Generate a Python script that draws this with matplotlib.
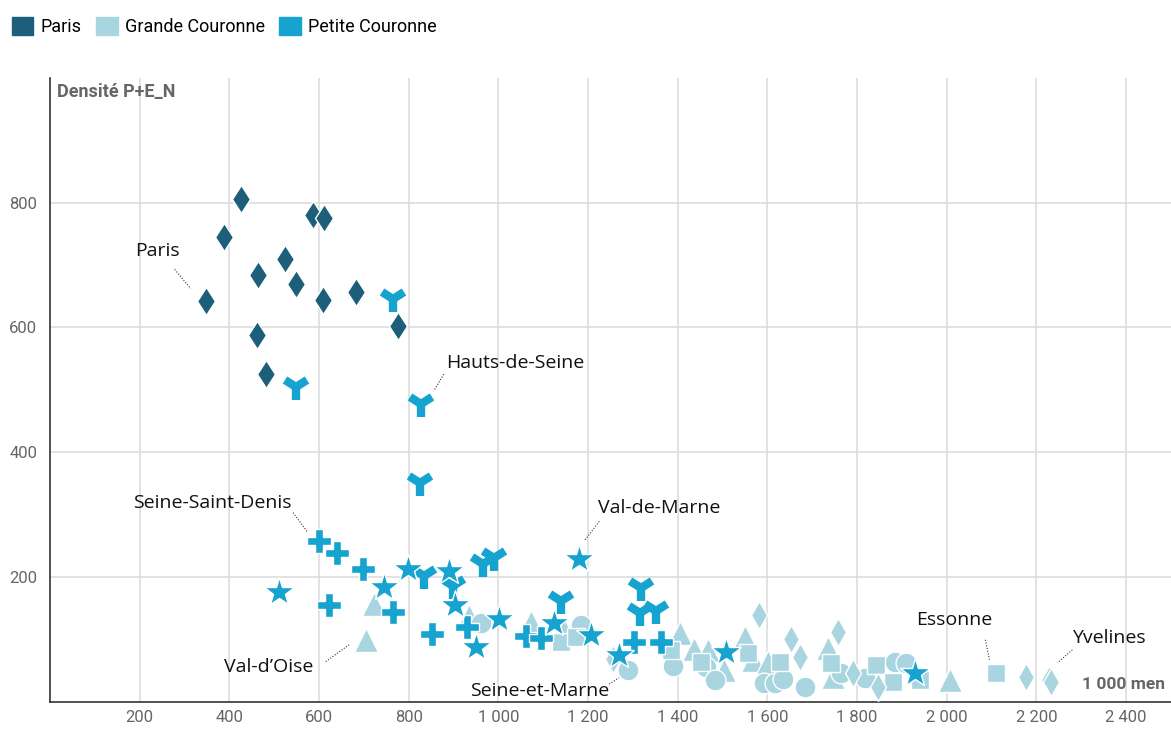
import matplotlib
matplotlib.use("Agg")
import matplotlib.pyplot as plt
from matplotlib.patches import Patch
from matplotlib.ticker import FuncFormatter

# couleurs des trois zones
c_paris = "#1d5f7a"
c_grande = "#a8d5df"
c_petite = "#17a3cf"

# Paris (losanges)
paris_x = [347, 388, 426, 461, 464, 482, 524, 548, 587, 610, 609, 682, 777]
paris_y = [643, 745, 806, 588, 684, 525, 710, 670, 780, 776, 644, 657, 603]

# Petite Couronne
hds_x = [766, 548, 827, 825, 835, 898, 965, 991, 1140, 1318, 1315, 1352]
hds_y = [646, 504, 477, 350, 201, 185, 220, 230, 161, 182, 142, 145]
ssd_x = [600, 641, 697, 623, 764, 853, 931, 1062, 1095, 1303, 1362]
ssd_y = [257, 238, 213, 155, 144, 109, 120, 105, 102, 96, 95]
vdm_x = [510, 745, 799, 890, 903, 950, 1002, 1125, 1207, 1179, 1270, 1508, 1928]
vdm_y = [175, 184, 213, 209, 155, 88, 132, 126, 107, 229, 75, 79, 46]

# Grande Couronne
sem_x = [961, 1184, 1290, 1389, 1464, 1482, 1593, 1616, 1635, 1683, 1765, 1817, 1884, 1910]
sem_y = [126, 123, 51, 57, 56, 35, 29, 29, 36, 24, 45, 37, 64, 61]
yve_x = [1255, 1582, 1653, 1672, 1757, 1791, 1846, 2176, 2228, 2232]
yve_y = [68, 139, 100, 72, 112, 45, 24, 40, 34, 32]
ess_x = [1140, 1173, 1386, 1452, 1557, 1627, 1742, 1843, 1880, 1940, 2109]
ess_y = [96, 104, 82, 64, 78, 64, 61, 59, 32, 35, 46]
vdo_x = [704, 723, 935, 1073, 1147, 1404, 1437, 1467, 1504, 1549, 1568, 1601, 1735, 1746, 2007]
vdo_y = [98, 157, 137, 127, 115, 110, 85, 83, 51, 103, 67, 64, 86, 40, 35]

# étiquettes : texte, position du texte, trait pointillé (x1, y1, x2, y2)
labels = ["Paris", "Hauts-de-Seine", "Seine-Saint-Denis", "Val-de-Marne",
          "Val-d\u2019Oise", "Seine-et-Marne", "Essonne", "Yvelines"]
label_pos = [(240, 723, "center"), (883, 543, "left"), (363, 319, "center"),
             (1222, 310, "left"), (488, 56, "center"), (1091, 17, "center"),
             (2017, 130, "center"), (2361, 102, "center")]
leaders = [(278, 693, 314, 662), (878, 525, 856, 498), (542, 303, 575, 271),
           (1225, 289, 1191, 257), (615, 64, 667, 91), (1247, 28, 1269, 38),
           (2086, 99, 2095, 67), (2280, 83, 2247, 62)]

x_ticks = [200, 400, 600, 800, 1000, 1200, 1400, 1600, 1800, 2000, 2200, 2400]
y_ticks = [200, 400, 600, 800]

plt.rcParams['font.family'] = ['Roboto', 'DejaVu Sans']

fig = plt.figure(figsize=(11.71, 7.29), dpi=100)
ax = fig.add_axes([50 / 1171, 27.5 / 729, 1121 / 1171, 623.5 / 729])

white = dict(markeredgecolor="white", markeredgewidth=1.0, linestyle="none")

# Grande Couronne d'abord
ax.plot(vdo_x, vdo_y, "^", ms=17, color=c_grande, zorder=3, **white)
ax.plot(sem_x, sem_y, "o", ms=15, color=c_grande, zorder=3, **white)
ax.plot(ess_x, ess_y, "s", ms=13, color=c_grande, zorder=3, **white)
ax.plot(yve_x, yve_y, "d", ms=14, color=c_grande, zorder=3, **white)

# Petite Couronne
ax.plot(ssd_x, ssd_y, "P", ms=17, color=c_petite, zorder=4, **white)
ax.plot(hds_x, hds_y, "1", ms=19, color=c_petite, markeredgewidth=6, linestyle="none", zorder=4)
ax.plot(vdm_x, vdm_y, "*", ms=22, color=c_petite, zorder=4, **white)

# Paris
ax.plot(paris_x, paris_y, "d", ms=14.5, color=c_paris, zorder=5, **white)

for lab, (tx, ty, ha), (x1, y1, x2, y2) in zip(labels, label_pos, leaders):
    ax.text(tx, ty, lab, ha=ha, va="center", fontsize=14, color="#111111",
            family=["Open Sans", "DejaVu Sans"], zorder=6)
    ax.plot([x1, x2], [y1, y2], color="#333333", lw=0.8, linestyle=(0, (1, 1.5)), zorder=6)

ax.set_xlim(0, 2500)
ax.set_ylim(0, 1000)
ax.set_xticks(x_ticks)
ax.set_yticks(y_ticks)
ax.xaxis.set_major_formatter(FuncFormatter(lambda v, p: f"{int(v):,}".replace(",", " ")))
ax.tick_params(length=0, labelsize=12, labelcolor="#666666")
ax.tick_params(axis="x", pad=6)
ax.tick_params(axis="y", pad=9)
ax.grid(True, color="#dddddd", lw=1.2)
ax.set_axisbelow(True)
for s in ["top", "right"]:
    ax.spines[s].set_visible(False)
for s in ["left", "bottom"]:
    ax.spines[s].set_color("#333333")
    ax.spines[s].set_linewidth(1.2)

ax.text(0.006, 0.978, "Densité P+E_N", transform=ax.transAxes, ha="left", va="center",
        fontsize=13, fontweight="bold", color="#666666")
ax.text(0.995, 0.028, "1 000 men", transform=ax.transAxes, ha="right", va="center",
        fontsize=12.5, fontweight="bold", color="#666666", zorder=7)

handles = [Patch(color=c_paris, label="Paris"),
           Patch(color=c_grande, label="Grande Couronne"),
           Patch(color=c_petite, label="Petite Couronne")]
fig.legend(handles=handles, loc="upper left", bbox_to_anchor=(0.0, 0.993), ncol=3,
           frameon=False, fontsize=13, handlelength=1.2, handleheight=1.2,
           handletextpad=0.4, columnspacing=0.8, borderaxespad=0.25)

fig.savefig("out.png", dpi=100)
